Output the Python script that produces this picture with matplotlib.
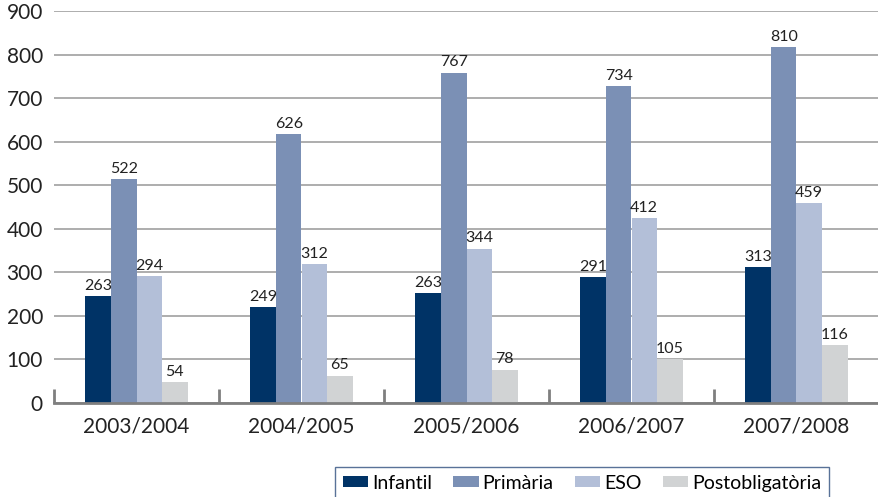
import numpy as np
import matplotlib
matplotlib.use("Agg")
import matplotlib.pyplot as plt
from matplotlib.patches import Patch

plt.rcParams["font.family"] = ["Lato", "DejaVu Sans"]

years = ["2003/2004", "2004/2005", "2005/2006", "2006/2007", "2007/2008"]
series = ["Infantil", "Primària", "ESO", "Postobligatòria"]
colors = ["#003366", "#7b90b5", "#b3bfd8", "#d1d3d4"]

# printed values (labels above the bars)
infantil_lbl = [263, 249, 263, 291, 313]
primaria_lbl = [522, 626, 767, 734, 810]
eso_lbl = [294, 312, 344, 412, 459]
post_lbl = [54, 65, 78, 105, 116]

# bar heights as drawn in the picture
infantil = [245, 220, 252, 289, 312]
primaria = [514, 617, 758, 727, 817]
eso = [291, 319, 354, 424, 459]
post = [48, 63, 76, 101, 133]

heights = [infantil, primaria, eso, post]
labels = [infantil_lbl, primaria_lbl, eso_lbl, post_lbl]

fig = plt.figure(figsize=(8.79, 4.97), dpi=100)
ax = fig.add_axes([54 / 879, 94 / 497, 825 / 879, 392 / 497])

x = np.arange(len(years))
w = 0.155
for i, (h, lb) in enumerate(zip(heights, labels)):
    pos = x + (i - 1.5) * w
    ax.bar(pos, h, width=w, color=colors[i], zorder=3)
    for px, py, t in zip(pos, h, lb):
        ax.text(px, py + 8, str(t), ha="center", va="bottom", fontsize=11.5, color="#222222", zorder=4)

ax.set_ylim(0, 900)
ax.set_xlim(-0.5, len(years) - 0.5)
ax.set_yticks(range(0, 901, 100))
ax.yaxis.grid(True, color="#a0a0a0", linewidth=1.2, zorder=0)
ax.tick_params(axis="y", length=0, labelsize=15, pad=8, labelcolor="#222222")

ax.set_xticks(x)
ax.set_xticklabels(years)
ax.tick_params(axis="x", which="major", length=0, labelsize=15, pad=10, labelcolor="#222222")
ax.set_xticks(np.arange(-0.5, len(years) + 0.5, 1), minor=True)
ax.tick_params(axis="x", which="minor", direction="in", length=10, width=2, color="#7f7f7f")

for s in ["left", "right", "top"]:
    ax.spines[s].set_visible(False)
ax.spines["bottom"].set_color("#7f7f7f")
ax.spines["bottom"].set_linewidth(2)
ax.spines["bottom"].set_zorder(5)

handles = [Patch(facecolor=c, edgecolor="none") for c in colors]
leg = fig.legend(handles, series, loc="upper left", bbox_to_anchor=(335 / 879, 1 - 467 / 497),
                 ncol=4, fontsize=14, frameon=True, fancybox=False, handlelength=1.3,
                 handleheight=0.5, handletextpad=0.2, columnspacing=1.1, borderpad=0.4,
                 borderaxespad=0)
leg.get_frame().set_edgecolor("#2f4f7f")
leg.get_frame().set_linewidth(1.0)

fig.savefig("out.png", dpi=100)
